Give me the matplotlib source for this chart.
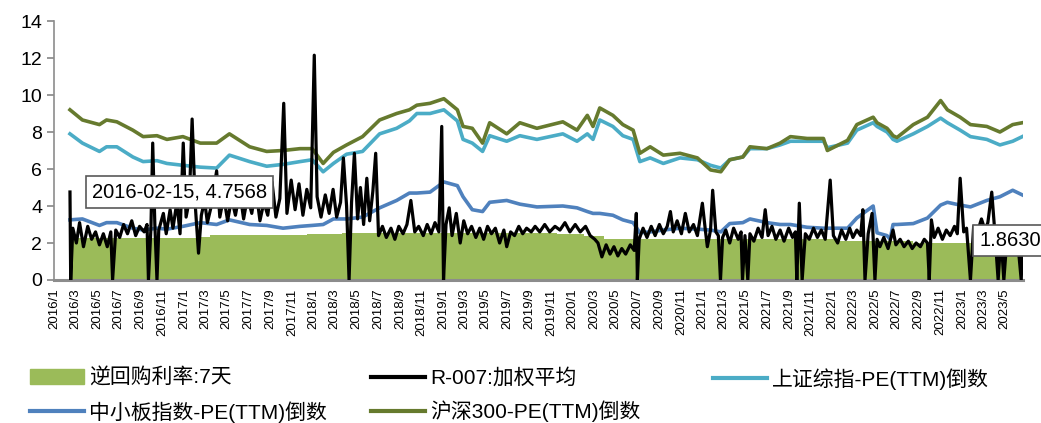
import matplotlib
matplotlib.use("Agg")
import matplotlib.pyplot as plt
import pandas as pd
from matplotlib.patches import Patch
from matplotlib.lines import Line2D

plt.rcParams['font.family'] = ['Liberation Sans', 'Noto Sans CJK SC', 'DejaVu Sans']

# 逆回购利率:7天 (阶梯)
rr_dates = ["2016-02-15", "2017-02-03", "2017-03-16", "2017-12-14", "2018-03-22", "2019-11-18",
            "2020-02-03", "2020-03-30", "2022-01-17", "2022-08-15", "2023-06-13", "2023-06-20"]
rr_vals = [2.25, 2.35, 2.45, 2.50, 2.55, 2.50, 2.40, 2.20, 2.10, 2.00, 1.90, 1.90]

# 三个指数PE倒数, 共用日期
idx_dates = ["2016-02-15", "2016-03-21", "2016-05-08", "2016-05-28", "2016-06-26", "2016-08-10",
             "2016-09-08", "2016-10-17", "2016-11-14", "2016-12-29", "2017-02-16", "2017-04-03",
             "2017-05-09", "2017-07-05", "2017-08-22", "2017-10-07", "2017-11-24", "2017-12-28",
             "2018-01-28", "2018-02-26", "2018-04-04", "2018-05-19", "2018-07-06", "2018-08-23",
             "2018-09-28", "2018-10-19", "2018-11-25", "2019-01-03", "2019-02-10", "2019-02-26",
             "2019-03-24", "2019-04-22", "2019-05-12", "2019-06-29", "2019-08-05", "2019-09-22",
             "2019-12-04", "2020-01-13", "2020-02-11", "2020-02-27", "2020-03-17", "2020-04-23",
             "2020-05-21", "2020-06-19", "2020-07-08", "2020-08-06", "2020-09-12", "2020-10-29",
             "2020-12-17", "2021-01-23", "2021-02-21", "2021-03-18", "2021-04-24", "2021-05-14",
             "2021-07-01", "2021-08-07", "2021-09-05", "2021-10-22", "2021-12-07", "2021-12-18",
             "2022-02-13", "2022-03-11", "2022-04-26", "2022-05-07", "2022-06-04", "2022-06-13",
             "2022-06-21", "2022-07-02", "2022-08-17", "2022-09-26", "2022-11-02", "2022-11-21",
             "2022-12-27", "2023-01-25", "2023-03-12", "2023-04-18", "2023-05-24", "2023-06-20"]
hs300 = [9.2, 8.65, 8.4, 8.65, 8.55, 8.1, 7.75, 7.8, 7.6, 7.75, 7.4, 7.4,
         7.9, 7.2, 6.95, 7.0, 7.1, 7.1, 6.3, 6.9, 7.3, 7.75, 8.65, 9.0,
         9.2, 9.45, 9.55, 9.8, 9.2, 8.3, 8.2, 7.4, 8.5, 7.9, 8.5, 8.2,
         8.55, 8.1, 8.9, 8.3, 9.3, 8.9, 8.4, 8.1, 6.85, 7.2, 6.75, 6.85,
         6.6, 5.95, 5.85, 6.5, 6.65, 7.2, 7.1, 7.4, 7.75, 7.65, 7.65, 7.0,
         7.55, 8.4, 8.8, 8.5, 8.2, 8.0, 7.8, 7.7, 8.4, 8.8, 9.7, 9.2,
         8.8, 8.4, 8.3, 8.0, 8.4, 8.5]
szzz = [7.9, 7.4, 6.95, 7.2, 7.2, 6.65, 6.4, 6.45, 6.3, 6.2, 6.1, 6.05,
        6.75, 6.4, 6.15, 6.25, 6.4, 6.5, 5.85, 6.3, 6.8, 6.95, 7.9, 8.2,
        8.6, 9.0, 9.0, 9.2, 8.6, 7.6, 7.4, 6.95, 7.8, 7.5, 7.8, 7.6,
        7.9, 7.5, 7.9, 7.6, 8.65, 8.3, 7.8, 7.6, 6.4, 6.6, 6.3, 6.6,
        6.5, 6.2, 6.05, 6.5, 6.65, 7.1, 7.1, 7.3, 7.5, 7.5, 7.5, 7.15,
        7.4, 8.1, 8.5, 8.3, 8.0, 7.8, 7.6, 7.5, 7.9, 8.3, 8.75, 8.5,
        8.1, 7.75, 7.6, 7.3, 7.5, 7.75]
zxb = [3.25, 3.3, 2.95, 3.1, 3.1, 2.8, 2.7, 2.8, 2.75, 2.9, 3.1, 3.0,
       3.25, 3.0, 2.95, 2.8, 2.9, 2.95, 3.0, 3.3, 3.3, 3.4, 3.9, 4.3,
       4.7, 4.7, 4.75, 5.3, 5.1, 4.5, 3.8, 3.7, 4.2, 4.3, 4.1, 3.95,
       4.0, 3.9, 3.7, 3.6, 3.6, 3.5, 3.25, 3.1, 2.55, 2.6, 2.7, 2.8,
       2.75, 2.7, 2.6, 3.05, 3.1, 3.3, 3.1, 3.0, 3.0, 2.85, 2.8, 2.8,
       2.8, 3.35, 4.0, 2.55, 2.4, 2.2, 3.0, 3.0, 3.05, 3.35, 4.05, 4.2,
       4.05, 3.95, 4.3, 4.5, 4.85, 4.6]

# R-007:加权平均
r007_dates = [
    "2016-02-15", "2016-02-17", "2016-02-23", "2016-03-04", "2016-03-13", "2016-03-24", "2016-04-05",
    "2016-04-16", "2016-04-27", "2016-05-08", "2016-05-19", "2016-05-30", "2016-06-09", "2016-06-14",
    "2016-06-23", "2016-07-04", "2016-07-15", "2016-07-26", "2016-08-07", "2016-08-18", "2016-08-29",
    "2016-09-11", "2016-09-19", "2016-09-23", "2016-09-30", "2016-10-05", "2016-10-11", "2016-10-17",
    "2016-10-22", "2016-11-04", "2016-11-12", "2016-11-23", "2016-12-01", "2016-12-12", "2016-12-21",
    "2016-12-30", "2017-01-07", "2017-01-16", "2017-01-24", "2017-02-02", "2017-02-11", "2017-02-19",
    "2017-02-28", "2017-03-08", "2017-03-19", "2017-04-03", "2017-04-12", "2017-04-23", "2017-05-04",
    "2017-05-15", "2017-05-26", "2017-06-07", "2017-06-18", "2017-06-29", "2017-07-11", "2017-07-22",
    "2017-08-03", "2017-08-14", "2017-08-25", "2017-09-06", "2017-09-17", "2017-09-28", "2017-10-09",
    "2017-10-18", "2017-10-30", "2017-11-10", "2017-11-21", "2017-12-02", "2017-12-13", "2017-12-24",
    "2018-01-03", "2018-01-11", "2018-01-22", "2018-02-03", "2018-02-14", "2018-02-25", "2018-03-07",
    "2018-03-18", "2018-03-26", "2018-04-04", "2018-04-11", "2018-04-18", "2018-04-26", "2018-05-05",
    "2018-05-13", "2018-05-22", "2018-05-31", "2018-06-08", "2018-06-17", "2018-06-25", "2018-07-03",
    "2018-07-14", "2018-07-25", "2018-08-07", "2018-08-18", "2018-08-29", "2018-09-10", "2018-09-21",
    "2018-10-02", "2018-10-13", "2018-10-24", "2018-11-06", "2018-11-17", "2018-11-28", "2018-12-09",
    "2018-12-20", "2018-12-28", "2019-01-02", "2019-01-09", "2019-01-18", "2019-01-26", "2019-02-07",
    "2019-02-18", "2019-02-28", "2019-03-11", "2019-03-22", "2019-04-03", "2019-04-14", "2019-04-25",
    "2019-05-06", "2019-05-17", "2019-05-28", "2019-06-09", "2019-06-21", "2019-06-29", "2019-07-10",
    "2019-07-21", "2019-08-02", "2019-08-13", "2019-08-24", "2019-09-06", "2019-09-17", "2019-09-30",
    "2019-10-14", "2019-10-28", "2019-11-12", "2019-11-26", "2019-12-10", "2019-12-24", "2020-01-08",
    "2020-01-22", "2020-02-06", "2020-02-19", "2020-03-03", "2020-03-12", "2020-03-23", "2020-04-04",
    "2020-04-15", "2020-04-26", "2020-05-07", "2020-05-18", "2020-05-29", "2020-06-11", "2020-06-22",
    "2020-06-28", "2020-07-01", "2020-07-06", "2020-07-17", "2020-07-28", "2020-08-09", "2020-08-20",
    "2020-09-01", "2020-09-12", "2020-09-23", "2020-10-02", "2020-10-10", "2020-10-21", "2020-11-02",
    "2020-11-13", "2020-11-24", "2020-12-06", "2020-12-17", "2020-12-31", "2021-01-09", "2021-01-14",
    "2021-01-23", "2021-01-29", "2021-02-07", "2021-02-14", "2021-02-20", "2021-02-26", "2021-03-07",
    "2021-03-18", "2021-03-29", "2021-04-11", "2021-04-19", "2021-04-23", "2021-04-30", "2021-05-08",
    "2021-05-14", "2021-05-25", "2021-06-06", "2021-06-17", "2021-06-26", "2021-07-04", "2021-07-15",
    "2021-07-26", "2021-08-07", "2021-08-18", "2021-08-31", "2021-09-11", "2021-09-19", "2021-09-23",
    "2021-09-30", "2021-10-08", "2021-10-17", "2021-10-28", "2021-11-09", "2021-11-20", "2021-12-01",
    "2021-12-12", "2021-12-26", "2022-01-04", "2022-01-16", "2022-01-27", "2022-02-08", "2022-02-19",
    "2022-02-28", "2022-03-11", "2022-03-22", "2022-03-28", "2022-04-03", "2022-04-12", "2022-04-23",
    "2022-05-01", "2022-05-07", "2022-05-15", "2022-05-26", "2022-06-07", "2022-06-21", "2022-06-29",
    "2022-07-11", "2022-07-22", "2022-08-03", "2022-08-14", "2022-08-25", "2022-09-06", "2022-09-17",
    "2022-09-26", "2022-10-01", "2022-10-07", "2022-10-15", "2022-10-26", "2022-11-07", "2022-11-18",
    "2022-11-29", "2022-12-11", "2022-12-19", "2022-12-27", "2023-01-06", "2023-01-14", "2023-01-25",
    "2023-02-03", "2023-02-14", "2023-02-25", "2023-03-07", "2023-03-15", "2023-03-26", "2023-04-04",
    "2023-04-13", "2023-04-21", "2023-04-29", "2023-05-08", "2023-05-22", "2023-06-06", "2023-06-17",
    "2023-06-20"]
r007_vals = [
    4.7568, 0, 2.8, 2.0, 3.1, 1.8, 2.9,
    2.2, 2.6, 1.9, 2.5, 1.8, 2.6, 0,
    2.7, 2.3, 3.0, 2.5, 3.2, 2.4, 2.9,
    2.6, 3.0, 0, 2.8, 7.4, 3.0, 0,
    2.7, 3.6, 2.5, 3.8, 2.8, 4.2, 2.5,
    7.4, 3.4, 4.3, 8.7, 4.0, 1.45, 3.5,
    4.3, 3.1, 4.0, 5.9, 3.4, 4.5, 3.2,
    4.4, 3.5, 4.8, 3.3, 4.5, 3.6, 5.0,
    3.2, 4.2, 3.5, 5.3, 3.4, 4.4, 9.55,
    3.6, 5.4, 3.8, 5.2, 3.5, 4.9, 3.9,
    12.15, 4.5, 3.4, 4.6, 3.6, 4.9, 3.4,
    4.2, 6.6, 4.0, 0, 4.2, 6.85, 3.3,
    5.0, 3.0, 5.5, 3.2, 4.8, 6.85, 2.4,
    2.9, 2.3, 2.8, 2.2, 2.9, 2.5, 3.0,
    4.3, 2.6, 2.9, 2.4, 3.0, 2.5, 3.1,
    2.6, 8.3, 0, 3.0, 3.9, 2.4, 3.6,
    2.0, 3.2, 2.5, 2.9, 2.3, 2.8, 2.2,
    2.9, 2.5, 2.8, 2.0, 2.7, 1.8, 2.6,
    2.4, 2.9, 2.5, 2.8, 2.6, 2.9, 2.6,
    3.0, 2.6, 2.9, 2.7, 3.1, 2.6, 3.0,
    2.6, 2.9, 2.4, 2.2, 2.0, 1.25, 1.9,
    1.4, 1.8, 1.3, 1.7, 1.4, 1.9, 1.6,
    3.6, 0, 2.2, 2.8, 2.3, 2.9, 2.4,
    3.0, 2.5, 2.9, 3.7, 2.6, 3.2, 2.5,
    3.6, 2.6, 3.0, 2.4, 4.15, 2.6, 1.8,
    2.7, 4.85, 2.6, 2.4, 0, 2.3, 2.7,
    2.0, 2.8, 2.2, 2.6, 0, 2.4, 0,
    2.5, 2.1, 2.8, 2.3, 3.8, 2.4, 2.9,
    2.2, 2.7, 2.1, 2.8, 2.3, 2.6, 0,
    4.15, 0, 2.5, 2.2, 2.8, 2.3, 2.7,
    2.2, 5.4, 2.4, 2.0, 2.7, 2.2, 2.8,
    2.3, 2.7, 2.4, 3.8, 0, 2.5, 3.6,
    0, 2.2, 1.8, 2.3, 1.7, 2.7, 1.9,
    2.2, 1.8, 2.1, 1.7, 2.0, 1.8, 2.2,
    2.0, 0, 3.25, 2.3, 2.8, 2.2, 2.7,
    2.4, 2.9, 2.5, 5.5, 2.6, 2.8, 0,
    2.9, 2.6, 3.3, 2.7, 3.1, 4.75, 2.5,
    0, 2.4, 0, 2.3, 2.0, 2.3, 0,
    1.863]

labels = ["逆回购利率:7天", "R-007:加权平均", "上证综指-PE(TTM)倒数",
          "中小板指数-PE(TTM)倒数", "沪深300-PE(TTM)倒数"]
c_fill = "#9BBB59"
c_r007 = "#000000"
c_sz = "#4BACC6"
c_zxb = "#4F81BD"
c_hs = "#667A2E"

rr_x = pd.to_datetime(rr_dates)
idx_x = pd.to_datetime(idx_dates)
r_x = pd.to_datetime(r007_dates)

fig = plt.figure(figsize=(10.41, 4.23), dpi=100)
ax = fig.add_axes([54 / 1041, 1 - 280 / 423, (1023 - 54) / 1041, (280 - 21) / 423])

ax.fill_between(rr_x, rr_vals, step="post", color=c_fill, lw=0, zorder=1)
ax.plot(idx_x, szzz, color=c_sz, lw=2.6, zorder=2)
ax.plot(idx_x, zxb, color=c_zxb, lw=2.6, zorder=2)
ax.plot(idx_x, hs300, color=c_hs, lw=2.6, zorder=2)
ax.plot(r_x, r007_vals, color=c_r007, lw=2.3, zorder=3)

# 数据标签
box = dict(boxstyle="square,pad=0.3", fc="white", ec="#595959", lw=1.2)
ax.annotate(f"{r_x[0]:%Y-%m-%d}, {r007_vals[0]:.4f}", (r_x[0], r007_vals[0]),
            xytext=(16, 0), textcoords="offset points", ha="left", va="center",
            fontsize=14.5, bbox=box, zorder=5)
ax.annotate(f"{r007_vals[-1]:.4f}", (r_x[-1], r007_vals[-1]),
            xytext=(-31, 3.5), textcoords="offset points", ha="left", va="center",
            fontsize=14.5, bbox=box, zorder=5, annotation_clip=False)

ax.set_ylim(0, 14)
ax.set_yticks(range(0, 15, 2))
ax.set_xlim(pd.Timestamp("2016-01-01"), pd.Timestamp("2023-06-22"))
ticks = pd.date_range("2016-01-01", "2023-05-01", freq="2MS")
ax.set_xticks(ticks)
ax.set_xticklabels([f"{t.year}/{t.month}" for t in ticks], rotation=90, fontsize=9.5)
ax.tick_params(axis="x", length=0, pad=6)
ax.tick_params(axis="y", labelsize=14, length=5, color="#868686", width=1.2)

for s in ["top", "right"]:
    ax.spines[s].set_visible(False)
ax.spines["bottom"].set_color("#8c8c8c")
ax.spines["bottom"].set_linewidth(2.2)
ax.spines["left"].set_color("#8c8c8c")
ax.spines["left"].set_linewidth(1.2)

# 图例, 三列固定位置
h_fill = Patch(color=c_fill)
h_r = Line2D([], [], color=c_r007, lw=3)
h_sz = Line2D([], [], color=c_sz, lw=3)
h_zxb = Line2D([], [], color=c_zxb, lw=3)
h_hs = Line2D([], [], color=c_hs, lw=3)
cols = [([h_fill, h_zxb], [labels[0], labels[3]], 30),
        ([h_r, h_hs], [labels[1], labels[4]], 371),
        ([h_sz], [labels[2]], 713)]
for hs, ls, xp in cols:
    fig.legend(hs, ls, loc="upper left", bbox_to_anchor=(xp / 1041, 1 - 368 / 423),
               frameon=False, fontsize=15, borderpad=0, borderaxespad=0,
               handlelength=2.6, handletextpad=0.25, labelspacing=0.62)

fig.savefig("out.png", dpi=100)
